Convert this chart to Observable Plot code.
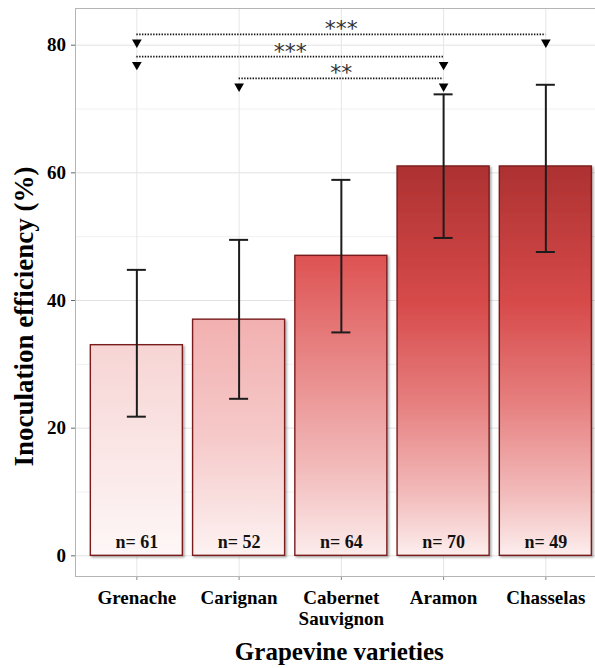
<!DOCTYPE html>
<html><head><meta charset="utf-8">
<script src="https://cdn.jsdelivr.net/npm/d3@7"></script>
<script src="https://cdn.jsdelivr.net/npm/@observablehq/plot@0.6"></script>
<style>
html,body{margin:0;padding:0;background:#fff;overflow:hidden;width:595px;height:668px}
#chart svg{overflow:hidden;display:block}
</style></head><body><div id="chart"></div>
<script>
// ---- data ----
const varieties = ["Grenache", "Carignan", "Cabernet\nSauvignon", "Aramon", "Chasselas"];
const efficiency = [33, 37, 47, 61, 61];
const errLow = [21.8, 24.6, 35.0, 49.8, 47.6];
const errHigh = [44.8, 49.5, 58.9, 72.3, 73.8];
const sampleSize = [61, 52, 64, 70, 49];
const sigFrom = ["Grenache", "Grenache", "Carignan"];
const sigTo = ["Chasselas", "Aramon", "Aramon"];
const sigLevel = [81.7, 78.2, 74.8];
const sigStars = ["***", "***", "**"];
const yTicks = [0, 20, 40, 60, 80];
const yMinorTicks = [10, 30, 50, 70];
const xTitle = "Grapevine varieties";
const yTitle = "Inoculation efficiency (%)";

// ---- styles ----
const barGradients = [
  [[0, "#f7d4d4"], [1, "#fef7f7"]],
  [[0, "#f2b0b0"], [0.5, "#f6c9c9"], [1, "#fdf2f2"]],
  [[0, "#de5252"], [0.35, "#e88686"], [0.7, "#f2b9b9"], [1, "#fcecec"]],
  [[0, "#ad3131"], [0.35, "#d74a4a"], [0.6, "#e67d7d"], [0.85, "#f3bdbd"], [1, "#fdeeee"]],
  [[0, "#ad3131"], [0.35, "#d74a4a"], [0.6, "#e67d7d"], [0.85, "#f3bdbd"], [1, "#fdeeee"]]
];

const idx = varieties.map((_, i) => i);
const rows = varieties.map((v, i) => ({i, v, value: efficiency[i], lo: errLow[i], hi: errHigh[i], n: sampleSize[i]}));
const sig = sigFrom.map((f, k) => ({x1: varieties.indexOf(f), x2: varieties.indexOf(sigTo[k]), y: sigLevel[k], label: sigStars[k]}));
const arrows = sig.flatMap(s => [{x: s.x1, y: s.y}, {x: s.x2, y: s.y}]);
const halfBar = 0.45, halfCap = 0.093;

const plot = Plot.plot({
  width: 595, height: 668,
  marginTop: 8, marginBottom: 92, marginLeft: 75, marginRight: -11.7,
  x: {domain: [-0.6, 4.6], axis: null},
  y: {domain: [-3.24, 85.75], axis: null},
  color: {type: "identity"},
  style: {fontFamily: "'Liberation Serif', serif", fontWeight: "bold", fontSize: "19px", background: "white", color: "black", overflow: "hidden"},
  marks: [
    Plot.ruleY(yMinorTicks, {stroke: "#f1f1f1", strokeWidth: 1}),
    Plot.ruleY(yTicks, {stroke: "#e2e2e2", strokeWidth: 1}),
    Plot.ruleX(idx, {stroke: "#e6e6e6", strokeWidth: 1}),
    Plot.rectY(rows, {x1: d => d.i - halfBar, x2: d => d.i + halfBar, y1: 0, y2: "value",
      fill: d => `url(#barGrad${d.i})`, stroke: "#7a1d1d", strokeWidth: 1.4, className: "bars"}),
    Plot.text(rows, {x: "i", y: 0, text: d => `n= ${d.n}`, fontSize: 18, lineAnchor: "bottom", dy: -8, fill: "#111"}),
    Plot.ruleX(rows, {x: "i", y1: "lo", y2: "hi", stroke: "#1c1c1c", strokeWidth: 2}),
    Plot.ruleY(rows, {y: "lo", x1: d => d.i - halfCap, x2: d => d.i + halfCap, stroke: "#1c1c1c", strokeWidth: 2}),
    Plot.ruleY(rows, {y: "hi", x1: d => d.i - halfCap, x2: d => d.i + halfCap, stroke: "#1c1c1c", strokeWidth: 2}),
    Plot.ruleY(sig, {y: "y", x1: "x1", x2: "x2", stroke: "#111", strokeWidth: 1.7, strokeDasharray: "1.4,1.4"}),
    Plot.dot(arrows, {x: "x", y: "y", symbol: "triangle", rotate: 180, r: 3.6, fill: "#000", stroke: "none", dy: 8}),
    Plot.text(sig, {x: d => (d.x1 + d.x2) / 2, y: "y", text: "label", fontSize: 22, fontWeight: "normal", fontFamily: "'DejaVu Sans', sans-serif", fill: "#333", dy: -5}),
    Plot.axisY(yTicks, {tickSize: 4, tickPadding: 5.4, fontSize: 19, stroke: "#666", fill: "black", label: null}),
    Plot.axisX(idx, {tickSize: 4, tickPadding: 7.5, tickFormat: i => varieties[i], lineHeight: 1.15, fontSize: 19, stroke: "#888", fill: "black", label: null}),
    Plot.frame({stroke: "#b5b5b5", strokeWidth: 1}),
    Plot.text([yTitle], {text: d => d, frameAnchor: "left", textAnchor: "middle", lineAnchor: "middle", rotate: -90, dx: -51, dy: 24, fontSize: 27, fill: "black"}),
    Plot.text([xTitle], {text: d => d, frameAnchor: "bottom", textAnchor: "middle", lineAnchor: "top", dx: -2, dy: 66, fontSize: 25, fill: "black"})
  ]
});

const svg = d3.select(plot);
const defs = svg.insert("defs", ":first-child");
barGradients.forEach((stops, i) => {
  const g = defs.append("linearGradient").attr("id", `barGrad${i}`).attr("x1", 0).attr("y1", 0).attr("x2", 0).attr("y2", 1);
  stops.forEach(([o, c]) => g.append("stop").attr("offset", o).attr("stop-color", c));
});
const f = defs.append("filter").attr("id", "barShadow").attr("x", "-10%").attr("y", "-10%").attr("width", "130%").attr("height", "130%");
f.append("feDropShadow").attr("dx", 1.5).attr("dy", 1.5).attr("stdDeviation", 1.2).attr("flood-color", "#000").attr("flood-opacity", 0.35);
svg.select("g.bars").attr("filter", "url(#barShadow)");

document.getElementById("chart").appendChild(plot);
</script></body></html>
